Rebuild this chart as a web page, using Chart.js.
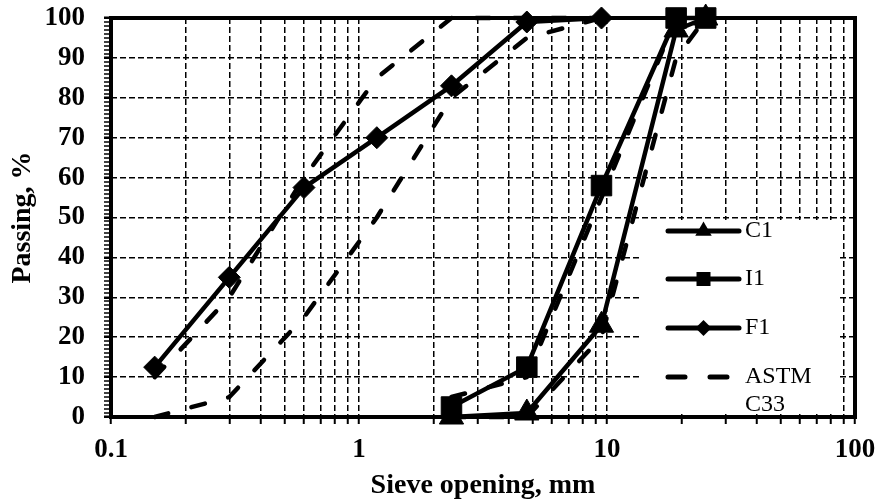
<!DOCTYPE html>
<html>
<head>
<meta charset="utf-8">
<script src="https://cdn.jsdelivr.net/npm/chart.js@4/dist/chart.umd.min.js"></script>
<style>
  html, body { margin: 0; padding: 0; background: #fff; }
  canvas { display: block; }
</style>
</head>
<body>
<canvas id="chart" width="881" height="503"></canvas>
<script>
// Sieve openings (mm) and percent passing for each gradation
const coarseSieves = [2.36, 4.75, 9.5, 19, 25];
const c1Passing = [0, 1, 23, 97, 100];
const i1Passing = [2.5, 12.5, 58, 100, 100];

const fineSieves = [0.15, 0.3, 0.6, 1.18, 2.36, 4.75, 9.5];
const f1Passing = [12.5, 35, 57.5, 70, 83, 99, 100];

// ASTM C33 grading limits
const fineLower = [0, 5, 25, 50, 80, 95, 100];
const fineUpper = [10, 30, 60, 85, 100, 100, 100];
const coarseLower = [0, 0, 20, 90, 100];
const coarseUpper = [5, 10, 55, 100, 100];

// Axis ticks
const xTicks = [0.1, 0.2, 0.3, 0.4, 0.5, 0.6, 0.7, 0.8, 0.9,
                1, 2, 3, 4, 5, 6, 7, 8, 9,
                10, 20, 30, 40, 50, 60, 70, 80, 90, 100];
const xLabels = ['0.1', '1', '10', '100'];
const yLabels = [0, 10, 20, 30, 40, 50, 60, 70, 80, 90, 100];

const legendItems = [
  { text: ['C1'], marker: 'triangle' },
  { text: ['I1'], marker: 'square' },
  { text: ['F1'], marker: 'diamond' },
  { text: ['ASTM', 'C33'], marker: 'dash' }
];

const SERIF = '"Liberation Serif", "Times New Roman", serif';

const pts = (xs, ys) => xs.map((x, i) => ({ x, y: ys[i] }));

const solidStyle = {
  borderColor: '#000',
  backgroundColor: '#000',
  borderWidth: 4.5,
  pointBackgroundColor: '#000',
  pointBorderColor: '#000',
  pointBorderWidth: 1,
  borderCapStyle: 'round',
  borderJoinStyle: 'round',
  tension: 0,
  clip: false
};
const limitStyle = {
  borderColor: '#000',
  borderWidth: 4.5,
  borderDash: [14, 24],
  borderCapStyle: 'round',
  borderJoinStyle: 'round',
  pointRadius: 0,
  tension: 0,
  clip: false
};

function drawMarker(ctx, kind, x, y) {
  ctx.beginPath();
  if (kind === 'triangle') {
    const r = 9.5;
    ctx.moveTo(x, y - r);
    ctx.lineTo(x + r * 0.866, y + r / 2);
    ctx.lineTo(x - r * 0.866, y + r / 2);
  } else if (kind === 'square') {
    const h = 7;
    ctx.rect(x - h, y - h, 2 * h, 2 * h);
  } else if (kind === 'diamond') {
    const r = 8;
    ctx.moveTo(x, y - r);
    ctx.lineTo(x + r, y);
    ctx.lineTo(x, y + r);
    ctx.lineTo(x - r, y);
  }
  ctx.closePath();
  ctx.fill();
}

// Frame around the plot and the in-plot legend panel
const frameAndLegend = {
  id: 'frameAndLegend',
  beforeDatasetsDraw(chart) {
    const { ctx, chartArea: a } = chart;
    ctx.save();
    ctx.fillStyle = '#fff';
    ctx.fillRect(a.right - 215, a.top + 202, 198, 194);
    ctx.lineWidth = 4;
    ctx.strokeStyle = '#000';
    ctx.strokeRect(a.left, a.top, a.right - a.left, a.bottom - a.top);
    ctx.restore();
  },
  afterDatasetsDraw(chart) {
    const { ctx, chartArea: a } = chart;
    const x1 = a.right - 187, x2 = a.right - 116, tx = a.right - 110;
    const rows = [213, 261, 310, 359];
    ctx.save();
    ctx.strokeStyle = '#000';
    ctx.fillStyle = '#000';
    ctx.lineWidth = 5;
    ctx.lineCap = 'round';
    ctx.font = '24px ' + SERIF;
    ctx.textBaseline = 'middle';
    ctx.textAlign = 'left';
    legendItems.forEach((item, i) => {
      const y = a.top + rows[i];
      ctx.setLineDash(item.marker === 'dash' ? [17, 25] : []);
      ctx.beginPath();
      ctx.moveTo(x1, y);
      ctx.lineTo(x2, y);
      ctx.stroke();
      ctx.setLineDash([]);
      if (item.marker !== 'dash') drawMarker(ctx, item.marker, (x1 + x2) / 2, y);
      item.text.forEach((t, k) => ctx.fillText(t, tx, y + k * 28));
    });
    ctx.restore();
  }
};

new Chart(document.getElementById('chart'), {
  type: 'line',
  data: {
    datasets: [
      { ...solidStyle, label: 'C1', data: pts(coarseSieves, c1Passing), pointStyle: 'triangle', pointRadius: 14 },
      { ...solidStyle, label: 'I1', data: pts(coarseSieves, i1Passing), pointStyle: 'rect', pointRadius: 14.5 },
      { ...solidStyle, label: 'F1', data: pts(fineSieves, f1Passing), pointStyle: 'rectRot', pointRadius: 11 },
      { ...limitStyle, label: 'ASTM C33', data: pts(fineSieves, fineLower) },
      { ...limitStyle, label: 'ASTM C33 (fine, upper)', data: pts(fineSieves, fineUpper) },
      { ...limitStyle, label: 'ASTM C33 (coarse, lower)', data: pts(coarseSieves, coarseLower) },
      { ...limitStyle, label: 'ASTM C33 (coarse, upper)', data: pts(coarseSieves, coarseUpper) }
    ]
  },
  options: {
    responsive: false,
    animation: false,
    events: [],
    devicePixelRatio: 1,
    layout: { autoPadding: false, padding: { top: 18, right: 26, left: 0, bottom: 0 } },
    plugins: { legend: { display: false }, tooltip: { enabled: false } },
    scales: {
      x: {
        type: 'logarithmic',
        min: 0.1,
        max: 100,
        afterBuildTicks: (scale) => { scale.ticks = xTicks.map(v => ({ value: v })); },
        afterFit: (scale) => {
          scale.height = 86;
          scale.paddingLeft = 0;
          scale.paddingRight = 0;
        },
        border: { display: false, dash: [6, 3] },
        grid: {
          color: '#000',
          lineWidth: 1.5,
          drawTicks: true,
          tickLength: 7,
          tickWidth: 2,
          tickColor: '#000',
          tickBorderDash: []
        },
        ticks: {
          autoSkip: false,
          maxRotation: 0,
          minRotation: 0,
          padding: 10,
          color: '#000',
          font: { family: SERIF, size: 27, weight: 'bold' },
          callback: (v) => {
            const s = String(Number(v));
            return xLabels.includes(s) ? s : '';
          }
        },
        title: {
          display: true,
          text: 'Sieve opening, mm',
          color: '#000',
          padding: { top: 0, bottom: 0 },
          font: { family: SERIF, size: 28, weight: 'bold', lineHeight: 1.2 }
        }
      },
      y: {
        type: 'linear',
        min: 0,
        max: 100,
        afterBuildTicks: (scale) => {
          const t = [];
          for (let v = 0; v <= 100; v++) t.push({ value: v });
          scale.ticks = t;
        },
        afterFit: (scale) => {
          scale.width = 111;
          scale.paddingTop = 0;
          scale.paddingBottom = 0;
        },
        border: { display: false, dash: [6, 3] },
        grid: {
          color: '#000',
          lineWidth: (c) => (c.tick && c.tick.value % 10 === 0 ? 1.5 : 0),
          drawTicks: true,
          tickLength: 7,
          tickWidth: (c) => (c.tick && c.tick.value % 10 === 0 ? 2.5 : 1.5),
          tickColor: '#000',
          tickBorderDash: []
        },
        ticks: {
          autoSkip: false,
          padding: 19,
          color: '#000',
          font: { family: SERIF, size: 27, weight: 'bold' },
          callback: (v) => (yLabels.includes(v) ? String(v) : '')
        },
        title: {
          display: true,
          text: 'Passing, %',
          color: '#000',
          padding: { top: 6, bottom: 0 },
          font: { family: SERIF, size: 28, weight: 'bold', lineHeight: 1.2 }
        }
      }
    }
  },
  plugins: [frameAndLegend]
});
</script>
</body>
</html>
